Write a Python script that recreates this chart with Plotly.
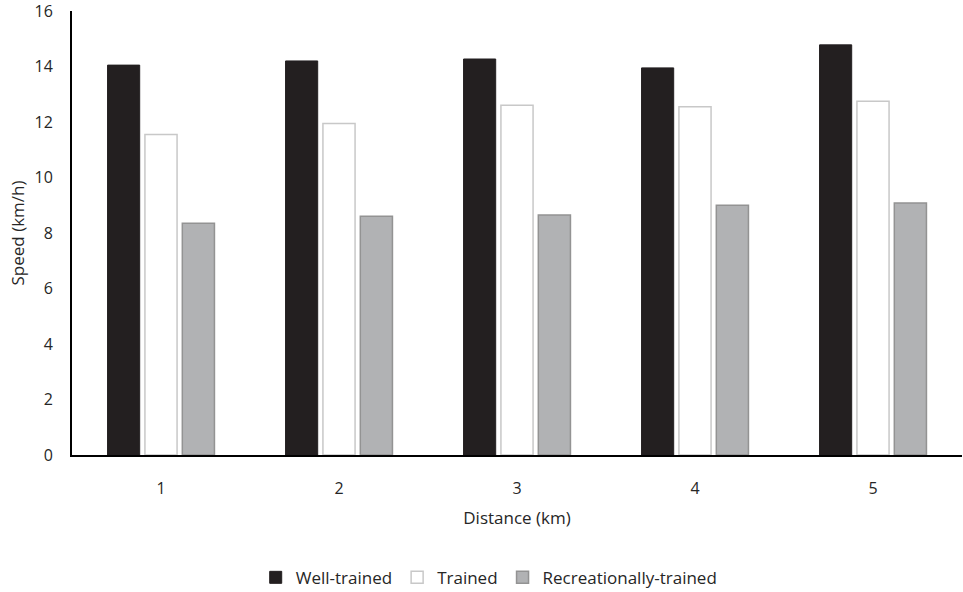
import plotly.graph_objects as go

distance = ["1", "2", "3", "4", "5"]
well_trained = [14.05, 14.2, 14.27, 13.95, 14.78]
trained = [11.55, 11.95, 12.6, 12.55, 12.75]
recreational = [8.35, 8.6, 8.65, 9.0, 9.08]

font_family = "Open Sans, Liberation Sans, sans-serif"
txt_color = "#262626"

fig = go.Figure()
fig.add_trace(go.Bar(x=distance, y=well_trained, name="Well-trained",
                     marker=dict(color="#231f20", line=dict(color="#231f20", width=1))))
fig.add_trace(go.Bar(x=distance, y=trained, name="Trained",
                     marker=dict(color="#ffffff", line=dict(color="#c8c8c8", width=1.5))))
fig.add_trace(go.Bar(x=distance, y=recreational, name="Recreationally-trained",
                     marker=dict(color="#b1b2b4", line=dict(color="#939393", width=1.5))))

fig.update_layout(
    width=963, height=592,
    margin=dict(l=72, r=1, t=11, b=137, autoexpand=False),
    plot_bgcolor="white", paper_bgcolor="white",
    barmode="group", bargap=0.37, bargroupgap=0.14,
    font=dict(family=font_family, size=16, color=txt_color),
    showlegend=True,
    legend=dict(orientation="h", xref="container", yref="container",
                x=0.508, xanchor="center", y=0.024, yanchor="middle",
                font=dict(size=17, color=txt_color), traceorder="normal",
                itemwidth=30),
    xaxis=dict(title=dict(text="Distance (km)", standoff=14, font=dict(size=17)),
               automargin=False,
               showline=True, linecolor="#000000", linewidth=2,
               showgrid=False, ticks="", ticklabelstandoff=18, zeroline=False),
    yaxis=dict(title=dict(text="Speed (km/h)", standoff=6, font=dict(size=17)),
               automargin=False, ticklabeloverflow="allow",
               range=[0, 16], dtick=2, showline=True, linecolor="#000000", linewidth=2,
               showgrid=False, ticks="", ticklabelstandoff=14, zeroline=False),
)

fig.write_html("out.html", config={"displayModeBar": False},
               post_script="document.body.style.margin='0px';")
